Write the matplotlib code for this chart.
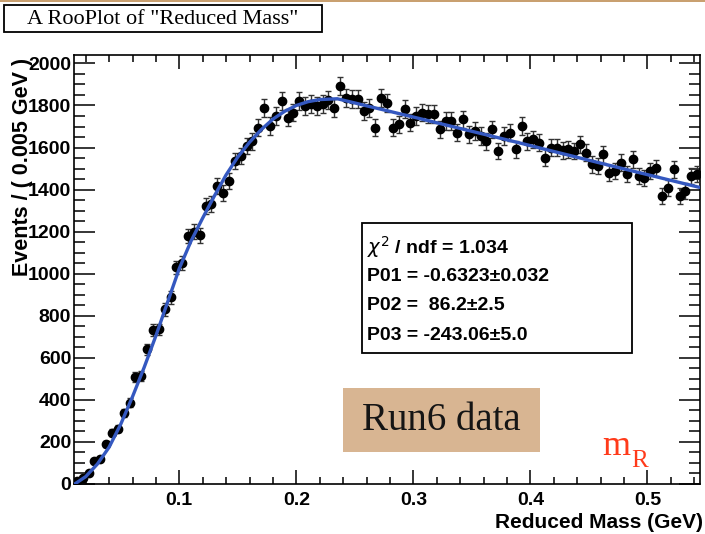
import numpy as np
import matplotlib.pyplot as plt
from matplotlib.patches import Rectangle
from matplotlib.ticker import MultipleLocator

W, H = 705, 534

# binned reduced-mass data, 0.005 GeV bins from 0.01 to 0.545
bin_lo, bin_w = 0.01, 0.005
counts = [
    12, 30, 50, 108, 118, 192, 244, 262, 339, 387,
    508, 513, 640, 732, 736, 830, 888, 1030, 1050, 1180,
    1200, 1182, 1322, 1332, 1417, 1385, 1441, 1536, 1560, 1607,
    1631, 1694, 1789, 1702, 1750, 1821, 1742, 1766, 1821, 1797,
    1805, 1797, 1805, 1825, 1789, 1893, 1837, 1829, 1829, 1774,
    1789, 1694, 1837, 1813, 1694, 1710, 1782, 1718, 1750, 1766,
    1758, 1758, 1686, 1726, 1726, 1670, 1734, 1663, 1679, 1655,
    1631, 1686, 1583, 1655, 1670, 1592, 1702, 1631, 1639, 1623,
    1552, 1599, 1599, 1587, 1592, 1583, 1615, 1575, 1520, 1512,
    1568, 1480, 1488, 1528, 1473, 1544, 1465, 1456, 1488, 1504,
    1369, 1409, 1496, 1369, 1393, 1465, 1473,
]

# fitted curve sampled along x
fit_x = [0.0106, 0.02, 0.03, 0.04, 0.05, 0.06, 0.07, 0.08, 0.09, 0.10,
         0.11, 0.12, 0.13, 0.14, 0.15, 0.16, 0.17, 0.18, 0.19, 0.20,
         0.21, 0.22, 0.235, 0.30, 0.39, 0.47, 0.545]
fit_y = [0, 35, 95, 175, 285, 415, 555, 705, 865, 1025,
         1155, 1265, 1370, 1470, 1555, 1625, 1685, 1735, 1772, 1800,
         1818, 1828, 1832, 1745, 1623, 1512, 1410]

stats_lines = [r"$\chi^2$ / ndf = 1.034",
               "P01 = -0.6323\u00b10.032",
               "P02 =  86.2\u00b12.5",
               "P03 = -243.06\u00b15.0"]

counts = np.array(counts, dtype=float)
centers = bin_lo + bin_w * (np.arange(len(counts)) + 0.5)
errors = np.sqrt(counts)


def fx(x):
    return x / W


def fy(y):
    return 1 - y / H


plt.rcParams['font.family'] = ['Liberation Sans', 'DejaVu Sans']

fig = plt.figure(figsize=(W / 100, H / 100), dpi=100)
ax = fig.add_axes([fx(74), fy(484), fx(700) - fx(74), fy(55) - fy(484)])

ax.errorbar(centers, counts, yerr=errors, fmt='o', color='black', ms=6,
            ecolor='#333333', elinewidth=1, capsize=2.5, capthick=1, zorder=3)
ax.plot(fit_x, fit_y, color='#3458c0', lw=2.4, zorder=4)

ax.set_xlim(0.01, 0.545)
ax.set_ylim(0, 2040)
ax.xaxis.set_major_locator(MultipleLocator(0.1))
ax.xaxis.set_minor_locator(MultipleLocator(0.02))
ax.yaxis.set_major_locator(MultipleLocator(200))
ax.yaxis.set_minor_locator(MultipleLocator(50))
ax.xaxis.set_major_formatter(plt.FuncFormatter(lambda v, p: f"{v:.1f}"))
ax.tick_params(axis='both', which='both', direction='in', top=True, right=True,
               width=1.1, labelsize=14)
ax.tick_params(axis='x', which='major', length=10, pad=6)
ax.tick_params(axis='x', which='minor', length=5)
ax.tick_params(axis='y', which='major', length=15, pad=2)
ax.tick_params(axis='y', which='minor', length=8)
for lab in ax.get_xticklabels() + ax.get_yticklabels():
    lab.set_fontweight('bold')
for s in ax.spines.values():
    s.set_linewidth(1.2)

# axis titles
fig.text(fx(703), fy(523), "Reduced Mass (GeV)", ha='right', va='center',
         fontsize=15, fontweight='bold')
fig.text(fx(23), fy(58), "Events / ( 0.005 GeV )", rotation=90, ha='center',
         va='top', fontsize=15.5, fontweight='bold')

# title box
fig.patches.append(Rectangle((fx(4), fy(32)), fx(318), 27 / H, transform=fig.transFigure,
                             facecolor='white', edgecolor='black', lw=1.3))
fig.text(fx(163), fy(19), 'A RooPlot of "Reduced Mass"', ha='center', va='center',
         family='Liberation Serif', fontsize=16)

# fit parameters box
fig.patches.append(Rectangle((fx(362), fy(353)), fx(270), 130 / H, transform=fig.transFigure,
                             facecolor='white', edgecolor='black', lw=1.3, zorder=5))
for k, line in enumerate(stats_lines):
    fig.text(fx(367), fy(247 + 29.5 * k), line, ha='left', va='center',
             fontsize=14, fontweight='bold', zorder=6)

# data-set tag
fig.patches.append(Rectangle((fx(343), fy(452)), fx(197), 64 / H, transform=fig.transFigure,
                             facecolor='#d8b592', edgecolor='none', zorder=5))
fig.text(fx(441), fy(421), "Run6 data", ha='center', va='center',
         family='Liberation Serif', fontsize=28, color='#151515', zorder=6)

fig.text(fx(602), fy(455), "m", ha='left', va='baseline',
         family='Liberation Serif', fontsize=26, color='#ff3a1a')
fig.text(fx(631), fy(467), "R", ha='left', va='baseline',
         family='Liberation Serif', fontsize=18, color='#ff3a1a')

# thin band along the top edge
fig.patches.append(Rectangle((0, fy(2)), 1, 2 / H, transform=fig.transFigure,
                             facecolor='#c9a070', edgecolor='none'))

fig.savefig('out.png', dpi=100)
